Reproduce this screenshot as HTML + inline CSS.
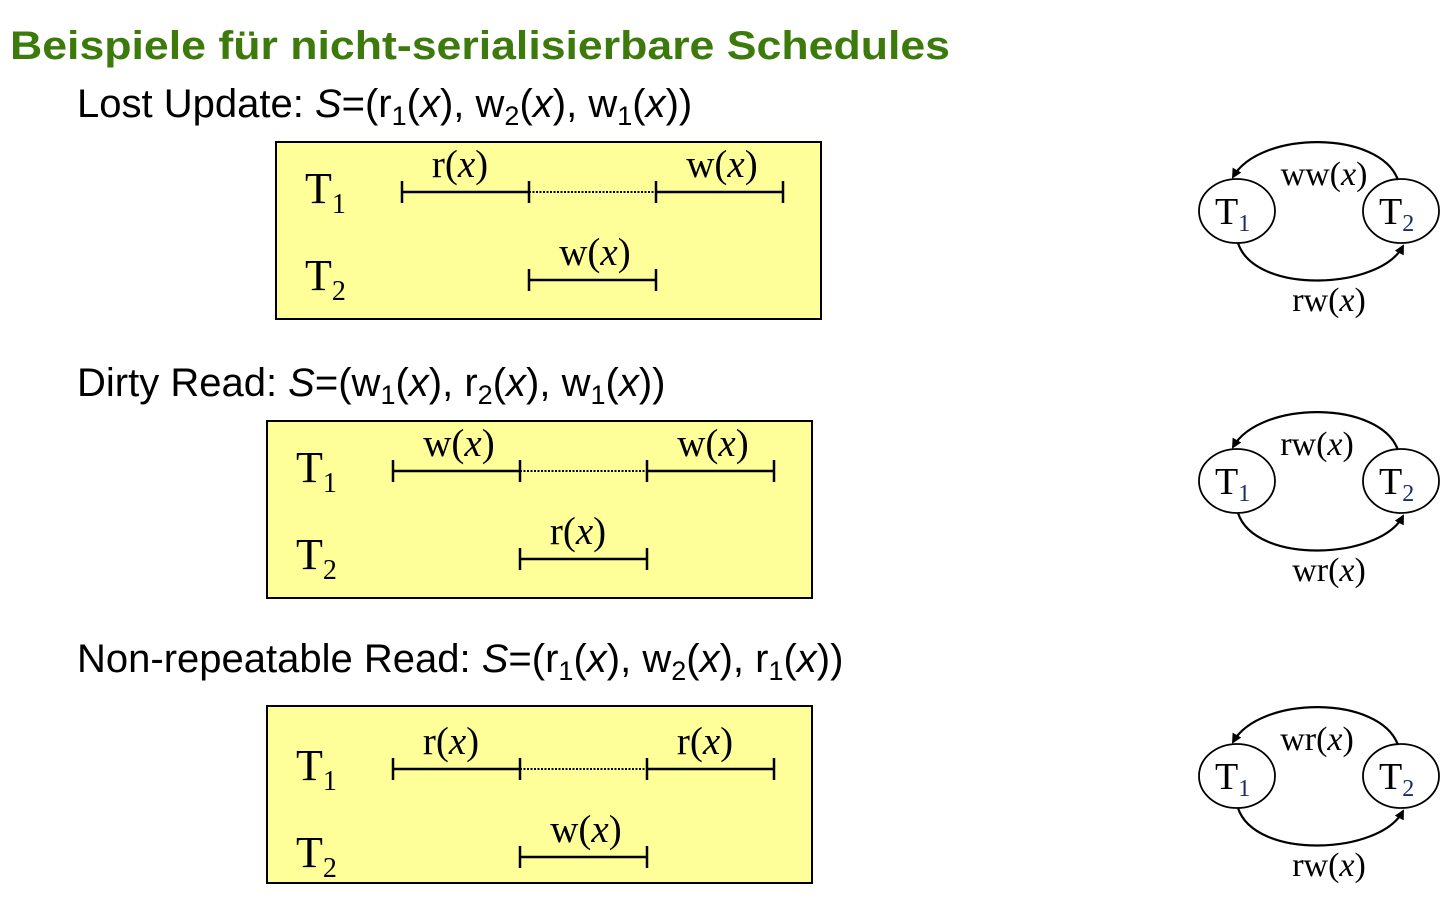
<!DOCTYPE html>
<html><head><meta charset="utf-8"><style>
html,body{margin:0;padding:0;background:#fff;}
svg{display:block;}
.h{font-family:"Liberation Sans",Arial,sans-serif;font-size:40px;fill:#000;}
.s{font-family:"Liberation Serif",serif;fill:#000;}
</style></head><body>
<svg width="1452" height="903" viewBox="0 0 1452 903" xmlns="http://www.w3.org/2000/svg">
<defs>
<marker id="ah" markerWidth="10" markerHeight="10" refX="8" refY="5" orient="auto" markerUnits="userSpaceOnUse">
<path d="M0,0 L10,5 L0,10 z" fill="#000"/>
</marker>
<rect id="rect" x="0" y="0" width="545" height="177" fill="#ffff99" stroke="#000" stroke-width="2"/>
<g id="content">
<text x="29" y="61" class="s" font-size="44">T<tspan font-size="28" dy="10">1</tspan></text>
<text x="29" y="148" class="s" font-size="44">T<tspan font-size="28" dy="10">2</tspan></text>
<g stroke="#000" stroke-width="2.5">
<line x1="126" y1="50" x2="253" y2="50"/>
<line x1="380" y1="50" x2="507" y2="50"/>
<line x1="253" y1="138" x2="380" y2="138"/>
<line x1="126" y1="39" x2="126" y2="61"/>
<line x1="253" y1="39" x2="253" y2="61"/>
<line x1="380" y1="39" x2="380" y2="61"/>
<line x1="507" y1="39" x2="507" y2="61"/>
<line x1="253" y1="127" x2="253" y2="149"/>
<line x1="380" y1="127" x2="380" y2="149"/>
</g>
<line x1="253" y1="50" x2="380" y2="50" stroke="#000" stroke-width="2" stroke-dasharray="2,1.5"/>
</g>
<g id="graph">
<ellipse cx="1237" cy="211" rx="38" ry="32" fill="#fff" stroke="#000" stroke-width="1.8"/>
<ellipse cx="1401" cy="211" rx="38" ry="32" fill="#fff" stroke="#000" stroke-width="1.8"/>
<text x="1215" y="224" class="s" font-size="38">T<tspan font-size="24" dy="7" fill="#1a2a6a">1</tspan></text>
<text x="1379" y="224" class="s" font-size="38">T<tspan font-size="24" dy="7" fill="#1a2a6a">2</tspan></text>
<path d="M1398,180 C1380,130 1260,130 1233,177" fill="none" stroke="#000" stroke-width="2.2" marker-end="url(#ah)"/>
<path d="M1238,243 C1255,295 1380,290 1403,246" fill="none" stroke="#000" stroke-width="2.2" marker-end="url(#ah)"/>
</g>
</defs>

<text x="10" y="59" font-family="'Liberation Sans',Arial,sans-serif" font-weight="bold" font-size="40" fill="#3d7a0c" textLength="940" lengthAdjust="spacingAndGlyphs">Beispiele für nicht-serialisierbare Schedules</text>

<text x="77" y="117" class="h">Lost Update: <tspan font-style="italic">S</tspan>=(r<tspan font-size="27" dy="8">1</tspan><tspan dy="-8">(</tspan><tspan font-style="italic">x</tspan>), w<tspan font-size="27" dy="8">2</tspan><tspan dy="-8">(</tspan><tspan font-style="italic">x</tspan>), w<tspan font-size="27" dy="8">1</tspan><tspan dy="-8">(</tspan><tspan font-style="italic">x</tspan>))</text>
<text x="77" y="396" class="h">Dirty Read: <tspan font-style="italic">S</tspan>=(w<tspan font-size="27" dy="8">1</tspan><tspan dy="-8">(</tspan><tspan font-style="italic">x</tspan>), r<tspan font-size="27" dy="8">2</tspan><tspan dy="-8">(</tspan><tspan font-style="italic">x</tspan>), w<tspan font-size="27" dy="8">1</tspan><tspan dy="-8">(</tspan><tspan font-style="italic">x</tspan>))</text>
<text x="77" y="672" class="h">Non-repeatable Read: <tspan font-style="italic">S</tspan>=(r<tspan font-size="27" dy="8">1</tspan><tspan dy="-8">(</tspan><tspan font-style="italic">x</tspan>), w<tspan font-size="27" dy="8">2</tspan><tspan dy="-8">(</tspan><tspan font-style="italic">x</tspan>), r<tspan font-size="27" dy="8">1</tspan><tspan dy="-8">(</tspan><tspan font-style="italic">x</tspan>))</text>

<!-- Box 1 -->
<g transform="translate(276,142)">
<use href="#rect"/><use href="#content"/>
<text x="184" y="35" class="s" font-size="39" text-anchor="middle">r(<tspan font-style="italic">x</tspan>)</text>
<text x="446" y="35" class="s" font-size="39" text-anchor="middle">w(<tspan font-style="italic">x</tspan>)</text>
<text x="319" y="123" class="s" font-size="39" text-anchor="middle">w(<tspan font-style="italic">x</tspan>)</text>
</g>
<!-- Box 2 -->
<g transform="translate(267,421)">
<use href="#rect"/><use href="#content"/>
<text x="192" y="35" class="s" font-size="39" text-anchor="middle">w(<tspan font-style="italic">x</tspan>)</text>
<text x="446" y="35" class="s" font-size="39" text-anchor="middle">w(<tspan font-style="italic">x</tspan>)</text>
<text x="311" y="123" class="s" font-size="39" text-anchor="middle">r(<tspan font-style="italic">x</tspan>)</text>
</g>
<!-- Box 3 -->
<g transform="translate(267,706)">
<use href="#rect"/>
<g transform="translate(0,13)"><use href="#content"/>
<text x="184" y="35" class="s" font-size="39" text-anchor="middle">r(<tspan font-style="italic">x</tspan>)</text>
<text x="438" y="35" class="s" font-size="39" text-anchor="middle">r(<tspan font-style="italic">x</tspan>)</text>
<text x="319" y="123" class="s" font-size="39" text-anchor="middle">w(<tspan font-style="italic">x</tspan>)</text>
</g>
</g>

<!-- Graph 1 -->
<use href="#graph"/>
<text x="1324" y="185" class="s" font-size="34" text-anchor="middle">ww(<tspan font-style="italic">x</tspan>)</text>
<text x="1329" y="311" class="s" font-size="34" text-anchor="middle">rw(<tspan font-style="italic">x</tspan>)</text>
<!-- Graph 2 -->
<g transform="translate(0,270)">
<use href="#graph"/>
<text x="1317" y="185" class="s" font-size="34" text-anchor="middle">rw(<tspan font-style="italic">x</tspan>)</text>
<text x="1329" y="311" class="s" font-size="34" text-anchor="middle">wr(<tspan font-style="italic">x</tspan>)</text>
</g>
<!-- Graph 3 -->
<g transform="translate(0,565)">
<use href="#graph"/>
<text x="1317" y="185" class="s" font-size="34" text-anchor="middle">wr(<tspan font-style="italic">x</tspan>)</text>
<text x="1329" y="311" class="s" font-size="34" text-anchor="middle">rw(<tspan font-style="italic">x</tspan>)</text>
</g>
</svg>
</body></html>
